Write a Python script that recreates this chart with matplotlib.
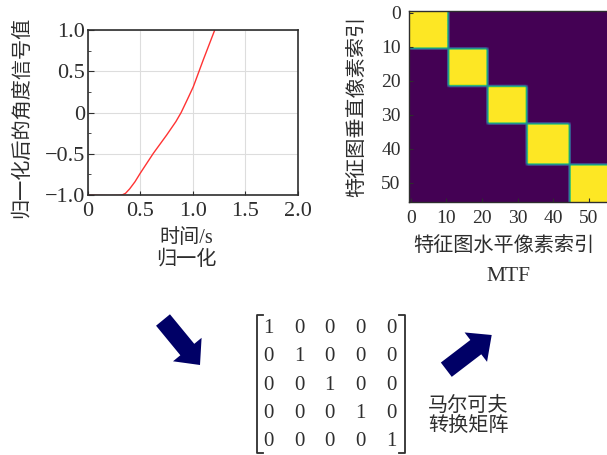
#!/usr/bin/env python3

# system imports
import numpy as np
import matplotlib
matplotlib.use("Agg")
import matplotlib.pyplot as plt
from matplotlib.patches import FancyArrow
from matplotlib.lines import Line2D

# normalised angle signal over time
time_s = [0, 0.1, 0.2, 0.3, 0.33, 0.36, 0.40, 0.45, 0.50, 0.625, 0.752,
          0.84, 0.89, 0.95, 1.006, 1.10, 1.21]
angle_norm = [-1.0, -1.004, -1.006, -1.004, -0.998, -0.98, -0.925, -0.84,
              -0.737, -0.495, -0.273, -0.11, 0.0, 0.16, 0.313, 0.636, 1.0]

# MTF feature map: one block per state along the diagonal
block_sizes = [11, 11, 11, 12, 11]

# markov transition matrix
markov = [[1, 0, 0, 0, 0],
          [0, 1, 0, 0, 0],
          [0, 0, 1, 0, 0],
          [0, 0, 0, 1, 0],
          [0, 0, 0, 0, 1]]

TEXT = "#2e2e2e"
NAVY = "#000066"
FONTS = ["Liberation Serif", "Noto Sans CJK SC"]

plt.rcParams["font.family"] = FONTS
plt.rcParams["axes.unicode_minus"] = True

W, H = 607, 455
fig = plt.figure(figsize=(W / 100, H / 100), dpi=100)


def px_axes(left, top, right, bottom):
    """axes rectangle given in pixel edges (y measured from top)"""
    return fig.add_axes([left / W, 1 - bottom / H, (right - left) / W, (bottom - top) / H])


# --- time signal -------------------------------------------------------
ax1 = px_axes(87.7, 30, 297.7, 195)
ax1.plot(time_s, angle_norm, color="#ff3333", lw=1.0)
ax1.set_xlim(0, 2.0)
ax1.set_ylim(-1.0, 1.0)
ax1.set_xticks([0, 0.5, 1.0, 1.5, 2.0])
ax1.set_xticklabels(["0", "0.5", "1.0", "1.5", "2.0"])
ax1.set_yticks([-1.0, -0.5, 0, 0.5, 1.0])
ax1.set_yticklabels(["\u22121.0", "\u22120.5", "0", "0.5", "1.0"])
ax1.set_yticks(np.arange(-1.0, 1.01, 0.25), minor=True)
ax1.grid(True, color="#dddddd", lw=0.8)
ax1.tick_params(which="both", direction="in", color=TEXT, labelcolor=TEXT,
                labelsize=16)
ax1.tick_params(axis="y", which="major", length=4, pad=2)
ax1.tick_params(axis="y", which="minor", length=2)
ax1.tick_params(axis="x", length=3, pad=5)
for sp in ax1.spines.values():
    sp.set_color(TEXT)
    sp.set_linewidth(1.2)

ax1.set_ylabel("归一化后的角度信号值", fontsize=14.5, color=TEXT, va="center")
ax1.yaxis.set_label_coords(-0.314, 0.47)
ax1.set_xlabel("时间/s\n归一化", fontsize=14.5, color=TEXT, va="center",
               linespacing=1.2)
ax1.xaxis.set_label_coords(0.47, -0.33)

# --- MTF image ---------------------------------------------------------
n = sum(block_sizes)
mtf = np.zeros((n, n))
start = 0
for size in block_sizes:
    mtf[start:start + size, start:start + size] = 1.0
    start += size

ax2 = px_axes(409, 11, 608.5, 201.7)
ax2.imshow(mtf, cmap="viridis", interpolation="bilinear", aspect="auto")
ax2.set_xticks(range(0, 51, 10))
ax2.set_yticks(range(0, 51, 10))
ax2.tick_params(direction="in", length=3, color=TEXT, labelcolor=TEXT,
                labelsize=14, pad=6)
for sp in ax2.spines.values():
    sp.set_color(TEXT)
    sp.set_linewidth(1.0)
ax2.spines["right"].set_visible(False)

ax2.set_ylabel("特征图垂直像素索引", fontsize=14.5, color=TEXT, va="center")
ax2.yaxis.set_label_coords(-0.2565, 0.502)
ax2.text(0.473, -0.236, "特征图水平像素索引", transform=ax2.transAxes,
         fontsize=14.5, color=TEXT, ha="center", va="center")
ax2.text(0.498, -0.393, "MTF", transform=ax2.transAxes,
         fontsize=15.5, color=TEXT, ha="center", va="center")

# --- arrows, matrix and caption (pixel overlay) ------------------------
ov = fig.add_axes([0, 0, 1, 1], zorder=-1)
ov.set_xlim(0, W)
ov.set_ylim(H, 0)
ov.axis("off")

arrow_style = dict(width=18, head_width=37, head_length=20,
                   length_includes_head=True, color=NAVY, lw=0)
ov.add_patch(FancyArrow(163, 320, 37, 45, **arrow_style))
ov.add_patch(FancyArrow(446.3, 369.7, 45.4, -34.7, **arrow_style))

col_x = [268, 299, 329, 360, 391]
row_y = [328.5, 356.8, 385, 413.3, 441.6]
for i, row in enumerate(markov):
    for j, val in enumerate(row):
        ov.text(col_x[j], row_y[i], str(val), fontsize=15, color=TEXT,
                ha="center", va="center")

br_top, br_bot = 315, 453
for x0, x1 in [(257.3, 262.5), (404.5, 399.3)]:
    ov.add_line(Line2D([x1, x0, x0, x1], [br_top, br_top, br_bot, br_bot],
                       color=TEXT, lw=1.3))

ov.text(468, 416.5, "马尔可夫\n转换矩阵", fontsize=14.5, color=TEXT,
        ha="center", va="center", linespacing=1.1)

fig.savefig("out.png", dpi=100)
